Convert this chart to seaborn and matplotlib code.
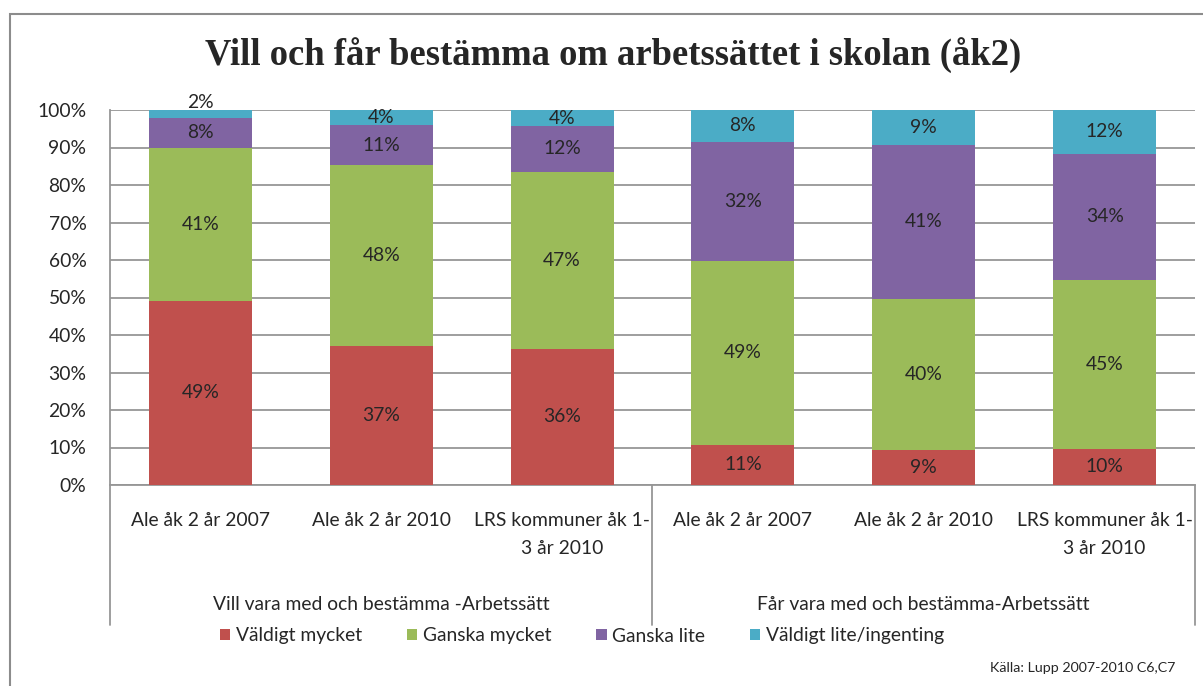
import numpy as np
import pandas as pd
import seaborn as sns
import matplotlib.pyplot as plt
from matplotlib.patches import Patch, Rectangle
from matplotlib.lines import Line2D
from matplotlib.transforms import blended_transform_factory

title = 'Vill och får bestämma om arbetssättet i skolan (åk2)'
categories = ['Ale åk 2 år 2007', 'Ale åk 2 år 2010', 'LRS kommuner åk 1-\n3 år 2010',
              'Ale åk 2 år 2007', 'Ale åk 2 år 2010', 'LRS kommuner åk 1-\n3 år 2010']
groups = ['Vill vara med och bestämma -Arbetssätt', 'Får vara med och bestämma-Arbetssätt']
series = ['Väldigt mycket', 'Ganska mycket', 'Ganska lite', 'Väldigt lite/ingenting']
valdigt_mycket = [49.2, 37.1, 36.3, 10.7, 9.3, 9.6]
ganska_mycket = [40.8, 48.2, 47.2, 49.0, 40.3, 45.1]
ganska_lite = [8.0, 10.6, 12.2, 31.9, 41.1, 33.6]
valdigt_lite = [2.0, 4.1, 4.3, 8.4, 9.3, 11.7]
source = 'Källa: Lupp 2007-2010 C6,C7'

colors = ['#C0504D', '#9BBB59', '#8064A2', '#4BACC6']
grid_col = '#969696'
fs = 13.9

sns.set_style('white')
plt.rcParams['font.family'] = ['Lato', 'DejaVu Sans']

W, H = 1203, 686
fig = plt.figure(figsize=(W / 100, H / 100), dpi=100)
fig.patch.set_facecolor('white')
ax = fig.add_axes([110 / W, (H - 485) / H, (1195 - 110) / W, 375 / H])

vals = np.array([valdigt_mycket, ganska_mycket, ganska_lite, valdigt_lite])
tops = vals.cumsum(axis=0)
df = pd.DataFrame({'pos': np.arange(len(categories))})

# stack by overdrawing cumulative totals, tallest first
for i in range(len(series) - 1, -1, -1):
    sns.barplot(x=df['pos'], y=tops[i], color=colors[i], width=0.57,
                saturation=1, linewidth=0, ax=ax, zorder=3)

for j in range(len(categories)):
    for i in range(len(series)):
        v = vals[i, j]
        base = tops[i, j] - v
        if v < 3:
            ax.text(j, tops[i, j] - 0.3, f'{v:.0f}%', ha='center', va='bottom',
                    fontsize=fs, zorder=5)
        else:
            ax.text(j, base + v / 2, f'{v:.0f}%', ha='center', va='center',
                    fontsize=fs, zorder=5)

ax.set_xlim(-0.5, len(categories) - 0.5)
ax.set_ylim(0, 100)
ax.set_yticks(np.arange(0, 101, 10))
ax.set_yticklabels([f'{t}%' for t in range(0, 101, 10)], fontsize=fs)
ax.tick_params(axis='y', length=0, pad=17)
ax.set_xticks([])
ax.set_xlabel('')
ax.set_ylabel('')
ax.grid(axis='y', color=grid_col, linewidth=1.3, zorder=0)
for s in ['top', 'right']:
    ax.spines[s].set_visible(False)
for s in ['left', 'bottom']:
    ax.spines[s].set_color(grid_col)
    ax.spines[s].set_linewidth(1.3)

# multi-level category axis
tr = blended_transform_factory(ax.transData, fig.transFigure)
for xv in [-0.5, 2.5, 5.5]:
    ax.add_line(Line2D([xv, xv], [(H - 485) / H, (H - 625) / H], transform=tr,
                       color=grid_col, linewidth=1.3, clip_on=False))
for j, lab in enumerate(categories):
    for k, line in enumerate(lab.split('\n')):
        ax.text(j, (H - 521 - 28 * k) / H, line, transform=tr, ha='center',
                va='center', fontsize=fs)
for g, lab in enumerate(groups):
    ax.text(1 + 3 * g, (H - 605) / H, lab, transform=tr, ha='center',
            va='center', fontsize=fs)

fig.text(613 / W, (H - 55) / H, title, ha='center', va='center',
         fontsize=26.4, fontweight='bold', family=['Liberation Serif', 'DejaVu Serif'])

handles = [Patch(facecolor=c, edgecolor='none') for c in colors]
fig.legend(handles, series, loc='center', bbox_to_anchor=(582 / W, (H - 636) / H),
           ncol=4, frameon=False, fontsize=fs, handlelength=0.55, handleheight=0.55,
           handletextpad=0.3, columnspacing=2.3)

fig.text(1175 / W, (H - 668) / H, source, ha='right', va='center', fontsize=10.3)

# outer chart frame
fig.add_artist(Rectangle((10 / W, -0.05), 1.2, (H - 14) / H + 0.05,
                         transform=fig.transFigure, fill=False,
                         edgecolor='#8c8c8c', linewidth=1.5))

fig.savefig('out.png', dpi=100, facecolor='white')
